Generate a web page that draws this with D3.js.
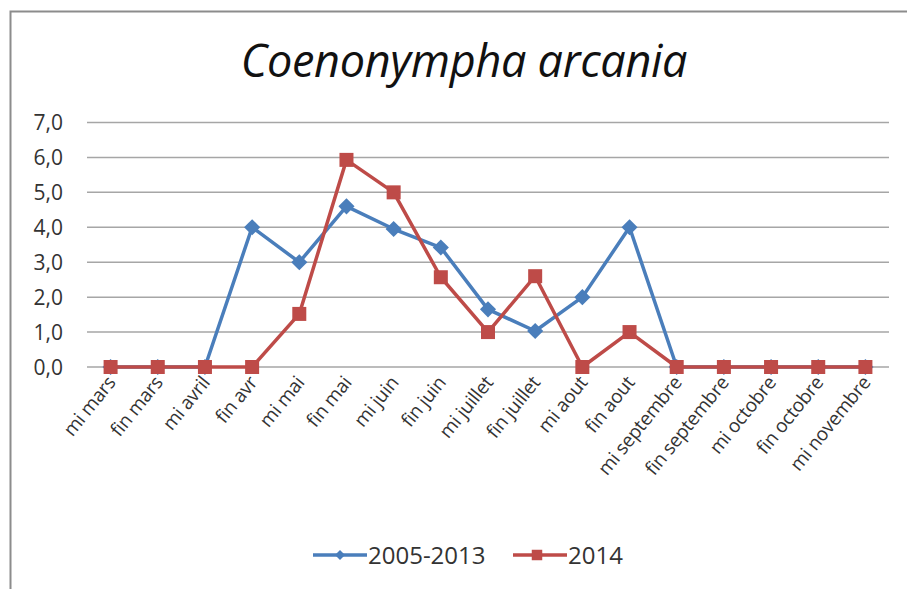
<!DOCTYPE html>
<html>
<head>
<meta charset="utf-8">
<script src="https://cdn.jsdelivr.net/npm/d3@7"></script>
<style>
  body { margin: 0; background: #fff; }
  text { font-family: "Open Sans", "Liberation Sans", sans-serif; }
</style>
</head>
<body>
<svg id="chart" width="907" height="589"></svg>
<script>
// periods along the x axis
const periods = ['mi mars', 'fin mars', 'mi avril', 'fin avr', 'mi mai', 'fin mai', 'mi juin',
  'fin juin', 'mi juillet', 'fin juillet', 'mi aout', 'fin aout', 'mi septembre',
  'fin septembre', 'mi octobre', 'fin octobre', 'mi novembre'];

// values
const avg2005_2013 = [0, 0, 0, 4.0, 3.0, 4.6, 3.95, 3.42, 1.65, 1.03, 2.0, 4.0, 0, 0, 0, 0, 0];
const year2014 = [0, 0, 0, 0, 1.52, 5.93, 5.0, 2.57, 1.0, 2.6, 0, 1.0, 0, 0, 0, 0, 0];

const yTicks = [0, 1, 2, 3, 4, 5, 6, 7];

const svg = d3.select('#chart');
const W = 907, H = 589;

// chart frame (only left and top edges visible in the picture)
svg.append('path')
  .attr('d', `M10.5,${H} L10.5,11.5 L${W},11.5`)
  .attr('fill', 'none')
  .attr('stroke', '#8c8c8c')
  .attr('stroke-width', 2);

const x = d3.scaleBand().domain(periods).range([87, 889]);
const y = d3.scaleLinear().domain([0, 7]).range([367, 122.5]);

// gridlines
svg.append('g')
  .selectAll('line')
  .data(yTicks)
  .join('line')
  .attr('x1', 87).attr('x2', 889)
  .attr('y1', d => y(d)).attr('y2', d => y(d))
  .attr('stroke', '#a6a6a6')
  .attr('stroke-width', 1.5);

// y axis labels
svg.append('g')
  .selectAll('text')
  .data(yTicks)
  .join('text')
  .attr('x', 63)
  .attr('y', d => y(d))
  .attr('dy', '0.36em')
  .attr('text-anchor', 'end')
  .attr('font-size', 21)
  .attr('fill', '#333')
  .text(d => d.toFixed(1).replace('.', ','));

// x axis labels, rotated
svg.append('g')
  .selectAll('text')
  .data(periods)
  .join('text')
  .attr('transform', d => `translate(${x(d) + x.bandwidth() / 2 + 6},${383}) rotate(-51)`)
  .attr('text-anchor', 'end')
  .attr('font-size', 19)
  .attr('letter-spacing', -0.3)
  .attr('fill', '#333')
  .text(d => d);

const cx = (d, i) => x(periods[i]) + x.bandwidth() / 2;

const line = d3.line()
  .x((d, i) => cx(d, i))
  .y(d => y(d));

const blue = '#4a7ebb', red = '#be4b48';

// 2005-2013 series
svg.append('path')
  .datum(avg2005_2013)
  .attr('d', line)
  .attr('fill', 'none')
  .attr('stroke', blue)
  .attr('stroke-width', 3.5)
  .attr('stroke-linejoin', 'round');

svg.append('g')
  .selectAll('path')
  .data(avg2005_2013)
  .join('path')
  .attr('d', d3.symbol(d3.symbolSquare, 130))
  .attr('transform', (d, i) => `translate(${cx(d, i)},${y(d)}) rotate(45)`)
  .attr('fill', blue);

// 2014 series
svg.append('path')
  .datum(year2014)
  .attr('d', line)
  .attr('fill', 'none')
  .attr('stroke', red)
  .attr('stroke-width', 3.5)
  .attr('stroke-linejoin', 'round');

svg.append('g')
  .selectAll('rect')
  .data(year2014)
  .join('rect')
  .attr('x', (d, i) => cx(d, i) - 7)
  .attr('y', d => y(d) - 7)
  .attr('width', 14).attr('height', 14)
  .attr('fill', red);

// title
svg.append('text')
  .attr('x', 464)
  .attr('y', 77)
  .attr('text-anchor', 'middle')
  .attr('font-size', 45)
  .attr('font-style', 'italic')
  .attr('letter-spacing', -0.3)
  .attr('fill', '#111')
  .text('Coenonympha arcania');

// legend
const legend = [
  { name: '2005-2013', color: blue, x: 313, marker: 'diamond' },
  { name: '2014', color: red, x: 513, marker: 'square' }
];
const lg = svg.append('g').selectAll('g').data(legend).join('g')
  .attr('transform', d => `translate(${d.x},555)`);
lg.append('line')
  .attr('x1', 0).attr('x2', 54)
  .attr('stroke', d => d.color)
  .attr('stroke-width', 3.5);
lg.append('path')
  .attr('d', d => d.marker === 'diamond'
    ? d3.symbol(d3.symbolSquare, 50)()
    : d3.symbol(d3.symbolSquare, 110)())
  .attr('transform', d => d.marker === 'diamond' ? 'translate(27,0) rotate(45)' : 'translate(24,0)')
  .attr('fill', d => d.color);
lg.append('text')
  .attr('x', 55)
  .attr('dy', '0.36em')
  .attr('font-size', 24)
  .attr('fill', '#333')
  .text(d => d.name);
</script>
</body>
</html>
